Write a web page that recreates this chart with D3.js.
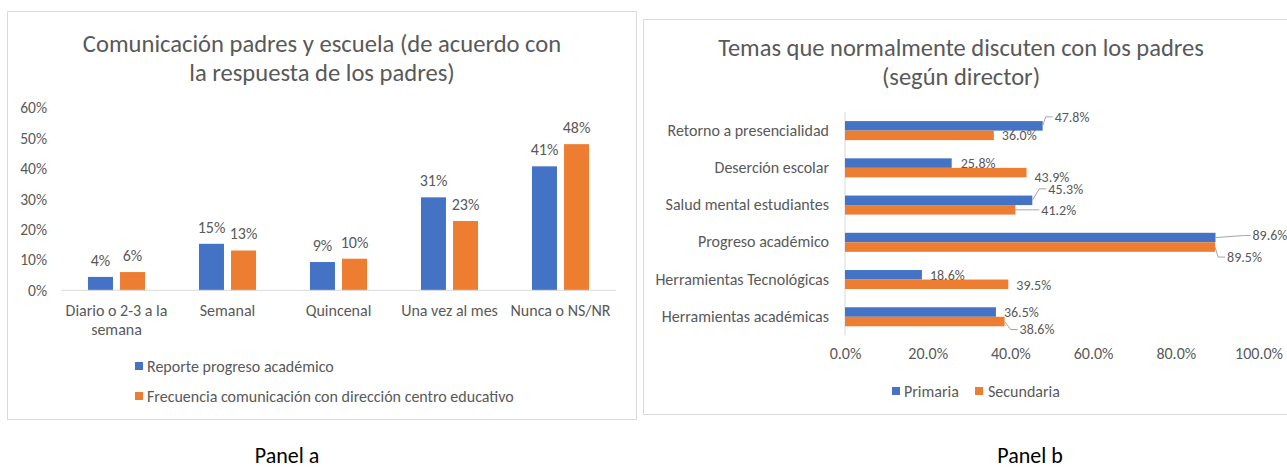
<!DOCTYPE html>
<html>
<head>
<meta charset="utf-8">
<script src="https://cdn.jsdelivr.net/npm/d3@7"></script>
<style>
  body { margin: 0; background: #fff; }
  svg text { font-family: Calibri, Carlito, Lato, sans-serif; fill: #595959; }
</style>
</head>
<body>
<div id="chart"></div>
<script>
// Panel a data (parents' answers)
var catsA = ["Diario o 2-3 a la semana", "Semanal", "Quincenal", "Una vez al mes", "Nunca o NS/NR"];
var reporte = [4.4, 15.3, 9.3, 30.6, 40.8];
var frecuencia = [6.0, 13.1, 10.4, 22.8, 48.1];
var seriesA = ["Reporte progreso académico", "Frecuencia comunicación con dirección centro educativo"];
var ticksA = [0, 10, 20, 30, 40, 50, 60];

// Panel b data (director)
var catsB = ["Retorno a presencialidad", "Deserción escolar", "Salud mental estudiantes", "Progreso académico", "Herramientas Tecnológicas", "Herramientas académicas"];
var primaria = [47.8, 25.8, 45.3, 89.6, 18.6, 36.5];
var secundaria = [36.0, 43.9, 41.2, 89.5, 39.5, 38.6];
var seriesB = ["Primaria", "Secundaria"];
var ticksB = [0, 20, 40, 60, 80, 100];

var blue = "#4472C4", orange = "#ED7D31", grid = "#d9d9d9";

var svg = d3.select("#chart").append("svg")
    .attr("width", 1287)
    .attr("height", 468);

svg.append("rect").attr("width", 1287).attr("height", 468).attr("fill", "#fff");

// ---------- Panel a ----------
var a = svg.append("g");
a.append("rect")
    .attr("x", 7.5).attr("y", 11.5).attr("width", 629).attr("height", 408)
    .attr("fill", "none").attr("stroke", grid);

a.append("text").attr("x", 322).attr("y", 52).attr("text-anchor", "middle")
    .attr("font-size", 24.6).text("Comunicación padres y escuela (de acuerdo con");
a.append("text").attr("x", 322).attr("y", 81).attr("text-anchor", "middle")
    .attr("font-size", 24.6).text("la respuesta de los padres)");

var xA = d3.scaleBand().domain(catsA).range([61, 616])
    .paddingInner(0.486).paddingOuter(0.243);
var xA2 = d3.scaleBand().domain([0, 1]).range([0, xA.bandwidth()]).paddingInner(0.22);
var yA = d3.scaleLinear().domain([0, 60]).range([290.3, 108]);

var yAxisA = a.append("g").attr("transform", "translate(47,0)")
    .call(d3.axisLeft(yA).tickValues(ticksA).tickSize(0).tickPadding(0).tickFormat(function(d) { return d + "%"; }));
yAxisA.select(".domain").remove();
yAxisA.selectAll("text").attr("font-size", 15.5).attr("font-family", null);

var dataA = catsA.map(function(c, i) { return {cat: c, vals: [reporte[i], frecuencia[i]]}; });

var groupsA = a.selectAll(".gA").data(dataA).enter().append("g")
    .attr("transform", function(d) { return "translate(" + xA(d.cat) + ",0)"; });

groupsA.selectAll("rect").data(function(d) { return d.vals; }).enter().append("rect")
    .attr("x", function(d, i) { return xA2(i); })
    .attr("y", function(d) { return yA(d); })
    .attr("width", xA2.bandwidth())
    .attr("height", function(d) { return yA(0) - yA(d); })
    .attr("fill", function(d, i) { return i == 0 ? blue : orange; });

groupsA.selectAll("text").data(function(d) { return d.vals; }).enter().append("text")
    .attr("x", function(d, i) { return xA2(i) + xA2.bandwidth() / 2; })
    .attr("y", function(d) { return yA(d) - 11; })
    .attr("text-anchor", "middle")
    .attr("font-size", 16)
    .text(function(d) { return Math.round(d) + "%"; });

var xAxisA = a.append("g").attr("transform", "translate(0,290.3)")
    .call(d3.axisBottom(xA).tickSize(0).tickPadding(14));
xAxisA.select(".domain").attr("stroke", grid).attr("d", "M61,0H616");
xAxisA.selectAll("text").attr("font-size", 16).attr("font-family", null).call(wrap, 108);

// legend a
seriesA.forEach(function(s, i) {
  var ly = 366 + i * 30;
  a.append("rect").attr("x", 135).attr("y", ly - 4).attr("width", 8).attr("height", 8)
      .attr("fill", i == 0 ? blue : orange);
  a.append("text").attr("x", 147).attr("y", ly).attr("dy", "0.35em")
      .attr("font-size", 16).text(s);
});

// ---------- Panel b ----------
var b = svg.append("g");
b.append("rect")
    .attr("x", 643.5).attr("y", 19.5).attr("width", 660).attr("height", 395)
    .attr("fill", "none").attr("stroke", grid);

b.append("text").attr("x", 961).attr("y", 56).attr("text-anchor", "middle")
    .attr("font-size", 24.5).text("Temas que normalmente discuten con los padres");
b.append("text").attr("x", 961).attr("y", 85).attr("text-anchor", "middle")
    .attr("font-size", 24.5).text("(según director)");

var xB = d3.scaleLinear().domain([0, 100]).range([845, 1258.5]);
var yB = d3.scaleBand().domain(catsB).range([112, 335.4])
    .paddingInner(0.489).paddingOuter(0.2445);
var yB2 = d3.scaleBand().domain([0, 1]).range([0, yB.bandwidth()]);

var xAxisB = b.append("g").attr("transform", "translate(0,348)")
    .call(d3.axisBottom(xB).tickValues(ticksB).tickSize(0).tickPadding(0)
      .tickFormat(function(d) { return d3.format(".1f")(d) + "%"; }));
xAxisB.select(".domain").remove();
xAxisB.selectAll("text").attr("font-size", 16).attr("font-family", null).attr("dy", "0.7em");

var yAxisB = b.append("g").attr("transform", "translate(845,0)")
    .call(d3.axisLeft(yB).tickSize(0).tickPadding(16));
yAxisB.select(".domain").attr("stroke", grid).attr("d", "M0,112V335.4");
yAxisB.selectAll("text").attr("font-size", 16).attr("font-family", null);

var dataB = catsB.map(function(c, i) { return {cat: c, vals: [primaria[i], secundaria[i]]}; });

// manual label nudges, as moved in the original (dx, dy, leader line)
var nudgeB = [
  [[5, -9, true], [1, 0, false]],
  [[2, 0, false], [1, 4.5, false]],
  [[9, -11.5, true], [19, 0, true]],
  [[30, -2, true], [5, 10, true]],
  [[1, 0, false], [1, 1, false]],
  [[1, 0, false], [8, 8, true]]
];

var groupsB = b.selectAll(".gB").data(dataB).enter().append("g")
    .attr("transform", function(d) { return "translate(0," + yB(d.cat) + ")"; });

groupsB.selectAll("rect").data(function(d) { return d.vals; }).enter().append("rect")
    .attr("x", xB(0))
    .attr("y", function(d, i) { return yB2(i); })
    .attr("width", function(d) { return xB(d) - xB(0); })
    .attr("height", yB2.bandwidth())
    .attr("fill", function(d, i) { return i == 0 ? blue : orange; });

groupsB.each(function(d, k) {
  var g = d3.select(this);
  d.vals.forEach(function(v, i) {
    var n = nudgeB[k][i];
    var bx = xB(v), by = yB2(i) + yB2.bandwidth() / 2;
    var tx = bx + 7 + n[0], ty = by + n[1];
    if (n[2]) {
      g.append("path")
        .attr("d", "M" + bx + "," + by + "L" + (tx - 9) + "," + ty + "L" + (tx - 2) + "," + ty)
        .attr("fill", "none").attr("stroke", "#a6a6a6").attr("stroke-width", 1);
    }
    g.append("text").attr("x", tx).attr("y", ty).attr("dy", "0.35em")
      .attr("font-size", 14).text(d3.format(".1f")(v) + "%");
  });
});

// legend b
var legB = [[892, 904], [975, 988]];
seriesB.forEach(function(s, i) {
  b.append("rect").attr("x", legB[i][0]).attr("y", 387).attr("width", 8).attr("height", 8)
      .attr("fill", i == 0 ? blue : orange);
  b.append("text").attr("x", legB[i][1]).attr("y", 391).attr("dy", "0.35em")
      .attr("font-size", 16).text(s);
});

// panel captions
svg.append("text").attr("x", 287).attr("y", 463).attr("text-anchor", "middle")
    .attr("font-size", 22).style("fill", "#000").text("Panel a");
svg.append("text").attr("x", 1030).attr("y", 463).attr("text-anchor", "middle")
    .attr("font-size", 22).style("fill", "#000").text("Panel b");

// wrap long category labels
function wrap(text, width) {
  text.each(function() {
    var t = d3.select(this),
        words = t.text().split(/\s+/).reverse(),
        word, line = [], lineNumber = 0,
        y = t.attr("y"), dy = parseFloat(t.attr("dy")),
        tspan = t.text(null).append("tspan").attr("x", 0).attr("y", y).attr("dy", dy + "em");
    while (word = words.pop()) {
      line.push(word);
      tspan.text(line.join(" "));
      if (tspan.node().getComputedTextLength() > width && line.length > 1) {
        line.pop();
        tspan.text(line.join(" "));
        line = [word];
        tspan = t.append("tspan").attr("x", 0).attr("y", y)
          .attr("dy", (++lineNumber * 1.2 + dy) + "em").text(word);
      }
    }
  });
}
</script>
</body>
</html>
